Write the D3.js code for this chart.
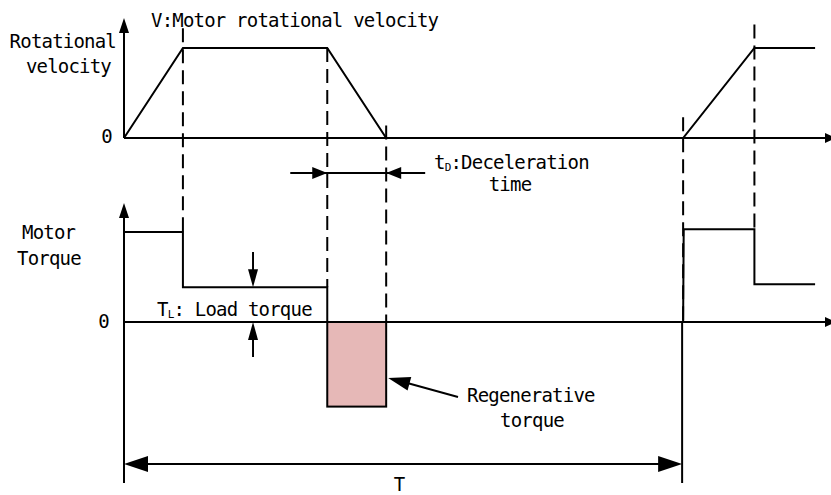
<!DOCTYPE html>
<html>
<head>
<meta charset="utf-8">
<script src="https://cdnjs.cloudflare.com/ajax/libs/d3/7.8.5/d3.min.js"></script>
<style>
  body { margin: 0; background: #fff; }
  svg text {
    font-family: "DejaVu Sans Mono", monospace;
    font-size: 19px;
    letter-spacing: -0.8px;
    fill: #000;
  }
</style>
</head>
<body>
<div id="chart"></div>
<script>
// time instants where the motion changes phase
var phaseTimes = [0, 1, 3.45, 4.45, 9.49, 10.7, 11.73];
// motor rotational velocity at each instant (1 = rated speed)
var velocityValues = [0, 1, 1, 0, 0, 1, 1];

// motor torque, as a step profile (time, torque)
var torqueCycle1 = [[0, 1], [1, 1], [1, 0.386], [3.45, 0.386], [3.45, 0]];
var torqueCycle2 = [[9.49, 0], [9.5, 1.03], [10.7, 1.03], [10.7, 0.42], [11.73, 0.42]];
// regenerative torque block during deceleration
var regenBlock = { t0: 3.45, t1: 4.45, torque: -0.94 };

// dashed guides: time, top (velocity units), bottom (torque units)
var guideTimes = [1, 3.45, 4.45, 9.49, 10.7];
var guideTops = [1.22, 1, 0.14, 0.23, 1.26];
var guideBottoms = [1, 0.386, 0, 0, 1.03];

var width = 831, height = 495;

var svg = d3.select("#chart").append("svg")
    .attr("width", width)
    .attr("height", height);

var x = d3.scaleLinear().domain([0, 12]).range([124, 831]);
var yV = d3.scaleLinear().domain([0, 1]).range([138, 48]);
var yT = d3.scaleLinear().domain([0, 1]).range([322, 232]);

// small filled arrow head; angle in degrees, 0 = pointing right
function arrowHead(px, py, angle, len, half) {
    svg.append("path")
        .attr("d", "M0,0L" + (-len) + "," + (-half) + "L" + (-len) + "," + half + "Z")
        .attr("transform", "translate(" + px + "," + py + ") rotate(" + angle + ")")
        .attr("fill", "#000");
}
function line(x1, y1, x2, y2, w) {
    return svg.append("line")
        .attr("x1", x1).attr("y1", y1).attr("x2", x2).attr("y2", y2)
        .attr("stroke", "#000").attr("stroke-width", w || 2);
}

// regenerative torque block (drawn first so lines sit on top)
svg.append("rect")
    .attr("x", x(regenBlock.t0))
    .attr("y", yT(0))
    .attr("width", x(regenBlock.t1) - x(regenBlock.t0))
    .attr("height", yT(regenBlock.torque) - yT(0))
    .attr("fill", "#e6b8b7")
    .attr("stroke", "#000")
    .attr("stroke-width", 2);

// dashed guides
guideTimes.forEach(function (t, i) {
    line(x(t), yV(guideTops[i]), x(t), yT(guideBottoms[i]), 2)
        .attr("stroke-dasharray", "14,7");
});

// velocity axes
line(x(0), yV(0), 835, yV(0));
arrowHead(836, yV(0), 0, 11, 5);
line(x(0), yV(0), x(0), 30);
arrowHead(x(0), 18, -90, 15, 5);

// torque axes
line(x(0), 483, x(0), 215);
arrowHead(x(0), 203, -90, 15, 5);
line(x(0), yT(0), 835, yT(0));
arrowHead(836, yT(0), 0, 11, 5);

// velocity profile
var vLine = d3.line()
    .x(function (d, i) { return x(phaseTimes[i]); })
    .y(function (d) { return yV(d); });
svg.append("path")
    .datum(velocityValues)
    .attr("d", vLine)
    .attr("fill", "none")
    .attr("stroke", "#000")
    .attr("stroke-width", 2);

// torque profile
var tLine = d3.line()
    .x(function (d) { return x(d[0]); })
    .y(function (d) { return yT(d[1]); });
[torqueCycle1, torqueCycle2].forEach(function (c) {
    svg.append("path")
        .datum(c)
        .attr("d", tLine)
        .attr("fill", "none")
        .attr("stroke", "#000")
        .attr("stroke-width", 2);
});

// period T
var xEnd = x(9.49) - 1;
line(xEnd, yT(0), xEnd, 483);
line(x(0) + 20, 464, xEnd - 20, 464);
arrowHead(x(0), 464, 180, 24, 8);
arrowHead(xEnd, 464, 0, 24, 8);
svg.append("text").attr("x", 399).attr("y", 491).attr("text-anchor", "middle").text("T");

// deceleration time arrows
var yD = 173;
line(x(3.45) - 37, yD, x(4.45) + 39, yD);
arrowHead(x(3.45), yD, 0, 15, 6);
arrowHead(x(4.45), yD, 180, 15, 6);
var td = svg.append("text").attr("x", 434).attr("y", 169);
td.append("tspan").text("t");
td.append("tspan").attr("font-size", "11px").attr("dy", 2).text("D");
td.append("tspan").attr("dy", -2).text(":Deceleration");
svg.append("text").attr("x", 510).attr("y", 191).attr("text-anchor", "middle").text("time");

// load torque arrows
var xL = x(2.19);
line(xL, 252, xL, 275);
arrowHead(xL, yT(0.386), 90, 18, 5);
line(xL, 357, xL, 335);
arrowHead(xL, yT(0), -90, 18, 5);
var tl = svg.append("text").attr("x", 157).attr("y", 316);
tl.append("tspan").text("T");
tl.append("tspan").attr("font-size", "11px").attr("dy", 2).text("L");
tl.append("tspan").attr("dy", -2).text(": Load torque");

// regenerative torque pointer
line(458, 397, 400, 381);
arrowHead(x(4.45) + 2, 378, Math.atan2(378 - 397, 388 - 458) * 180 / Math.PI, 22, 7);
svg.append("text").attr("x", 467).attr("y", 402).text("Regenerative");
svg.append("text").attr("x", 532).attr("y", 427).attr("text-anchor", "middle").text("torque");

// titles and axis labels
svg.append("text").attr("x", 151).attr("y", 27).text("V:Motor rotational velocity");
svg.append("text").attr("x", 116).attr("y", 48).attr("text-anchor", "end").text("Rotational");
svg.append("text").attr("x", 111).attr("y", 73).attr("text-anchor", "end").text("velocity");
svg.append("text").attr("x", 112).attr("y", 143).attr("text-anchor", "end").text("0");
svg.append("text").attr("x", 22).attr("y", 239).text("Motor");
svg.append("text").attr("x", 17).attr("y", 265).text("Torque");
svg.append("text").attr("x", 109).attr("y", 328).attr("text-anchor", "end").text("0");
</script>
</body>
</html>
